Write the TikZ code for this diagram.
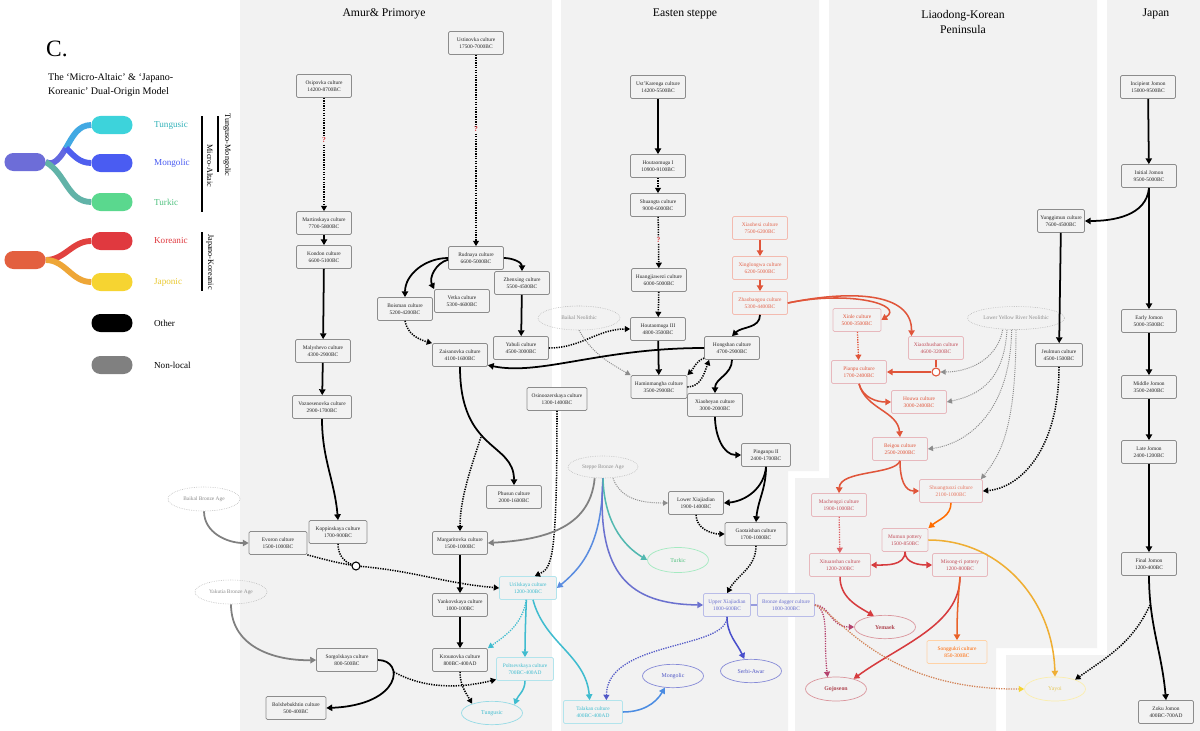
\documentclass[tikz,border=0pt]{standalone}
\usepackage{fontspec}
\setmainfont{Liberation Serif}
\usetikzlibrary{arrows.meta,shapes.geometric}
\pgfdeclarelayer{panels}
\pgfdeclarelayer{links}
\pgfsetlayers{panels,links,main}
\definecolor{panelGrey}{HTML}{F2F2F2}
\definecolor{boxLine}{HTML}{8C8C8C}
\definecolor{tungC}{HTML}{3DD3DB}
\definecolor{mongC}{HTML}{4A5CF2}
\definecolor{turkC}{HTML}{5AD88E}
\definecolor{korC}{HTML}{E0393F}
\definecolor{japC}{HTML}{F6D431}
\definecolor{microC}{HTML}{6D6DD8}
\definecolor{jkC}{HTML}{E3603F}
\definecolor{korLine}{HTML}{E0553A}
\definecolor{korDeep}{HTML}{D63B3E}
\definecolor{korText}{HTML}{C24E5A}
\definecolor{tungText}{HTML}{3FBCCF}
\definecolor{mongText}{HTML}{5158C6}
\definecolor{magDot}{HTML}{B5436E}
\definecolor{yayoiText}{HTML}{E6C85A}
\definecolor{sbaBlue}{HTML}{5A8CE0}
\definecolor{sbaTeal}{HTML}{52B8B0}
\definecolor{talBlue}{HTML}{4B8CE2}
\definecolor{mumYel}{HTML}{EFAE33}
\definecolor{magYel}{HTML}{D3855A}
\newcommand{\cultfont}{\fontsize{4.6}{6}\selectfont}
\tikzset{altaic/.style={
  x=0.03cm, y=0.03cm,
  cult/.style={draw=boxLine, fill=panelGrey, rounded corners=1.2pt, line width=0.6pt,
    minimum width=1.65cm, minimum height=0.69cm, inner sep=1.5pt, align=center,
    font=\cultfont, text=black!85},
  kcult/.style={cult, draw=korLine!40, text=korLine!90},
  jkcult/.style={cult, draw=korText!40, text=korText},
  tcult/.style={cult, draw=tungText!40, text=tungText},
  mcult/.style={cult, draw=mongText!40, text=mongText!85},
  region/.style={ellipse, draw=black!30, densely dotted, line width=0.5pt,
    minimum width=2.16cm, minimum height=0.72cm, inner sep=0pt, font=\cultfont, text=black!45},
  lang/.style={ellipse, line width=0.6pt, minimum width=1.83cm, minimum height=0.7cm,
    inner sep=0pt, font=\fontsize{5}{6}\selectfont},
  tlang/.style={lang, draw=tungText!55, text=tungText},
  glang/.style={lang, draw=turkC!55, text=turkC!90!black},
  mlang/.style={lang, draw=mongText!70, text=mongText},
  klang/.style={lang, draw=korText!60, text=korText!90!black, font=\fontsize{5}{6}\selectfont\bfseries},
  ylang/.style={lang, draw=japC!40, text=yayoiText},
  solidarr/.style={-{Triangle[length=5pt,width=5.4pt]}, line width=1.5pt},
  dotline/.style={line width=1.3pt, dash pattern=on 1.1pt off 1pt},
  dotarr/.style={dotline, -{Triangle[length=4.6pt,width=5pt]}},
  tipcol/.style={-{Triangle[length=5pt,width=5.4pt,color=#1]}},
  greyarr/.style={solidarr, draw=black!50},
  greydot/.style={-{Triangle[length=4.4pt,width=4.6pt]}, draw=black!45, line width=0.8pt,
    dash pattern=on 0.9pt off 0.9pt},
  karr/.style={solidarr, draw=korLine, line width=1.3pt},
  kline/.style={draw=korLine, line width=1.3pt},
  kdot/.style={dotarr, draw=korLine, line width=1.1pt},
  kdeep/.style={solidarr, draw=korDeep, line width=1.3pt},
  kdeepdot/.style={dotarr, draw=korDeep!80, line width=1.1pt},
  orangearr/.style={solidarr, draw=orange!85!red, line width=1.3pt},
  tarr/.style={solidarr, draw=tungText, line width=1.3pt},
  tdot/.style={dotarr, draw=tungText, line width=1.1pt},
  marr/.style={solidarr, draw=mongText!90!blue, line width=1.3pt},
  mdot/.style={dotarr, draw=mongText, line width=1.1pt},
  magdot/.style={dotarr, draw=magDot, line width=1.1pt},
  qmark/.style={font=\fontsize{6.5}{7}\selectfont\bfseries, text=korDeep, fill=panelGrey, inner sep=0.3pt},
  jcirc/.style={circle, draw, fill=white, line width=0.9pt, minimum size=0.24cm, inner sep=0pt},
  pill/.style={rounded corners=7.5pt, minimum width=1.23cm, minimum height=0.54cm, inner sep=0pt},
  keylab/.style={anchor=west, font=\fontsize{7.8}{9}\selectfont},
  keybar/.style={line width=1.1pt},
  sidelab/.style={rotate=-90, font=\fontsize{7}{8}\selectfont},
  paneltitle/.style={font=\fontsize{10}{12}\selectfont, align=center},
}}

\begin{document}
\begin{tikzpicture}[altaic]
\useasboundingbox (0,0) rectangle (1200,-731);
% =====================================================================
%  regional panels
% =====================================================================
\begin{pgfonlayer}{panels}
  \fill[white] (0,0) rectangle (1200,-731);
  \fill[panelGrey] (240,0) rectangle (552,-731);
  \fill[panelGrey] (561,0) -- (819,0) -- (819,-471) -- (788,-471) -- (788,-731) -- (561,-731) -- cycle;
  \fill[panelGrey] (829,0) -- (1097,0) -- (1097,-648) -- (996,-648) -- (996,-731) -- (795,-731) -- (795,-478) -- (829,-478) -- cycle;
  \fill[panelGrey] (1107,0) -- (1200,0) -- (1200,-731) -- (1006,-731) -- (1006,-655) -- (1107,-655) -- cycle;
\end{pgfonlayer}

\node[paneltitle] (tAmur) at (384,-14) {Amur\& Primorye};
\node[paneltitle] (tSteppe) at (685,-14) {Easten steppe};
\node[paneltitle] (tLiao) at (963,-22) {Liaodong-Korean\\Peninsula};
\node[paneltitle] (tJapan) at (1156,-14) {Japan};

% =====================================================================
%  key
% =====================================================================
\node[anchor=west, font=\fontsize{20}{22}\selectfont] (panelC) at (42,-49) {C.};
\node[anchor=west, align=left, font=\fontsize{8.6}{12}\selectfont] (keyTitle) at (44,-85)
  {The `Micro-Altaic' \& `Japano-\\Koreanic' Dual-Origin Model};

\node[pill, fill=microC] (pMicro) at (25,-162) {};
\node[pill, fill=tungC] (pTung) at (112,-125) {};
\node[pill, fill=mongC] (pMong) at (112,-163) {};
\node[pill, fill=turkC] (pTurk) at (112,-202) {};
\node[pill, fill=jkC] (pJK) at (25,-260) {};
\node[pill, fill=korC] (pKor) at (112,-241) {};
\node[pill, fill=japC] (pJap) at (112,-282) {};
\node[pill, fill=black] (pOther) at (112,-323) {};
\node[pill, fill=black!50] (pNonlocal) at (112,-365) {};
\coordinate (mJoin) at (66,-148);

\begin{pgfonlayer}{links}
  \draw[line width=5pt, draw=microC!70!mongC] (pMicro.east) to[out=-30,in=-120] (mJoin);
  \draw[line width=5pt, draw=tungC!65!mongC] (mJoin) to[out=60,in=180] (pTung.west);
  \draw[line width=5pt, draw=mongC!85!microC] (mJoin) to[out=-45,in=180] (pMong.west);
  \draw[line width=5pt, draw=turkC!65!microC] (pMicro.east) to[out=-30,in=180] (pTurk.west);
  \draw[line width=5pt, draw=korC!80!jkC] (pJK.east) to[out=0,in=180] (pKor.west);
  \draw[line width=5pt, draw=japC!60!jkC] (pJK.east) to[out=0,in=180] (pJap.west);
\end{pgfonlayer}

\node[keylab, text=tungC!85!black] (lTung) at (150,-125) {Tungusic};
\node[keylab, text=mongC] (lMong) at (150,-163) {Mongolic};
\node[keylab, text=turkC!90!black] (lTurk) at (150,-202) {Turkic};
\node[keylab, text=korC] (lKor) at (150,-241) {Koreanic};
\node[keylab, text=japC!95!black] (lJap) at (150,-282) {Japonic};
\node[keylab] (lOther) at (150,-323) {Other};
\node[keylab] (lNonlocal) at (150,-365) {Non-local};

\draw[keybar] (202,-116) -- (202,-212);
\draw[keybar] (218,-116) -- (218,-172);
\draw[keybar] (202,-232) -- (202,-291);
\node[sidelab] (sMicro) at (210,-166) {Micro-Altaic};
\node[sidelab] (sTM) at (227,-145) {Tunguso-Mongolic};
\node[sidelab] (sJK) at (210,-262) {Japano-Koreanic};

% =====================================================================
%  Amur & Primorye
% =====================================================================
\node[cult] (ustinovka) at (476,-43) {Ustinovka culture\\17500-7000BC};
\node[cult] (osipovka) at (324,-86) {Osipovka culture\\14200-8700BC};
\node[cult] (martinskaya) at (324,-223) {Martinskaya culture\\7700-5800BC};
\node[cult] (kondon) at (324,-257) {Kondon culture\\6600-5100BC};
\node[cult] (rudnaya) at (476,-258) {Rudnaya culture\\6600-5000BC};
\node[cult] (zhenxing) at (522,-283) {Zhenxing culture\\5500-4500BC};
\node[cult] (vetka) at (462,-301) {Vetka culture\\5300-4600BC};
\node[cult] (boisman) at (405,-309) {Boisman culture\\5200-4200BC};
\node[cult] (yabuli) at (521,-348) {Yabuli culture\\4500-3000BC};
\node[cult] (zaisanovka) at (460,-355) {Zaisanovka culture\\4100-1600BC};
\node[cult] (malyshevo) at (323,-351) {Malyshevo culture\\4300-2900BC};
\node[cult, minimum width=1.77cm] (voznesenovka) at (322,-407) {Voznesenovka culture\\2900-1700BC};
\node[cult, minimum width=1.8cm] (osino) at (557,-399) {Osinoozerskaya culture\\1300-1400BC};
\node[cult] (phusun) at (514,-497) {Phusun culture\\2000-1600BC};
\node[cult, minimum width=1.74cm] (koppinskaya) at (338,-532) {Koppinskaya culture\\1700-900BC};
\node[cult, minimum width=1.74cm] (evoron) at (278,-543) {Evoron culture\\1500-1000BC};
\node[cult] (margaritovka) at (460,-543) {Margaritovka culture\\1500-1000BC};
\node[cult] (yankovskaya) at (460,-605) {Yankovskaya culture\\1000-100BC};
\node[cult] (krounovka) at (460,-660) {Krounovka culture\\800BC-400AD};
\node[tcult, minimum width=1.71cm] (urilskaya) at (528,-588) {Urilskaya culture\\1200-300BC};
\node[tcult, minimum width=1.71cm] (poltsev) at (525,-669) {Poltsevskaya culture\\700BC-400AD};
\node[tlang] (tungusic) at (492,-713) {Tungusic};
\node[cult, minimum width=1.83cm] (sorgol) at (347,-660) {Sorgolskaya culture\\800-500BC};
\node[cult, minimum width=1.8cm] (bolsh) at (296,-708) {Bolshebukhtin culture\\500-400BC};
\node[region] (bba) at (204,-499) {Baikal Bronze Age};
\node[region] (yba) at (231,-592) {Yakutia Bronze Age};
\node[jcirc] (junc1) at (356,-566) {};

% =====================================================================
%  Easten steppe
% =====================================================================
\node[cult] (ustkarenga) at (658,-87) {Ust'Karenga culture\\14200-5500BC};
\node[cult] (hou1) at (658,-166) {Houtaomuga I\\10900-9100BC};
\node[cult] (shuangta) at (658,-205) {Shuangta culture\\9000-6000BC};
\node[kcult] (xiaohexi) at (760,-228) {Xiaohexi culture\\7500-6200BC};
\node[cult] (huangjia) at (659,-280) {Huangjiawezi culture\\6000-5000BC};
\node[kcult] (xinglongwa) at (760,-268) {Xinglongwa culture\\6200-5000BC};
\node[kcult] (zhaobaogou) at (760,-303) {Zhaobaogou culture\\5300-4400BC};
\node[cult] (hou3) at (658,-329) {Houtaomuga III\\4800-3500BC};
\node[region, minimum width=2.46cm] (bn) at (579,-318) {Baikal Neolithic};
\node[cult] (hongshan) at (732,-348) {Hongshan culture\\4700-2900BC};
\node[cult, minimum width=1.68cm] (hamin) at (659,-387) {Haminmangha culture\\3500-2900BC};
\node[cult] (xiaoheyan) at (715,-405) {Xiaoheyan culture\\3000-2000BC};
\node[cult, minimum width=1.47cm] (pinganpu) at (766,-455) {Pinganpu II\\2400-1700BC};
\node[region, minimum width=2.1cm, minimum height=0.66cm] (sba) at (603,-467) {Steppe Bronze Age};
\node[cult] (lowerx) at (696,-503) {Lower Xiajiadian\\1900-1400BC};
\node[cult, minimum width=1.86cm] (gaotaishan) at (756,-534) {Gaotaishan culture\\1700-1000BC};
\node[glang, minimum height=0.75cm] (turkic) at (678,-560) {Turkic};
\node[mcult, minimum width=1.41cm] (upperx) at (727,-605) {Upper Xiajiadian\\1000-600BC};
\node[mcult, minimum width=1.71cm] (dagger) at (786,-605) {Bronze dagger culture\\1000-300BC};
\node[mlang] (mongolic) at (673,-676) {Mongolic};
\node[mlang] (serbi) at (751,-671) {Serbi-Awar};
\node[tcult, minimum width=1.77cm] (talakan) at (593,-712) {Talakan culture\\400BC-400AD};

% =====================================================================
%  Liaodong-Korean Peninsula
% =====================================================================
\node[jkcult, minimum width=1.44cm, text=korLine] (xinle) at (857,-320) {Xinle culture\\5000-3500BC};
\node[jkcult] (xiaozhushan) at (936,-348) {Xiaozhushan culture\\4600-3200BC};
\node[region, minimum width=2.91cm, minimum height=0.69cm] (lyrn) at (1016,-318) {Lower Yellow River Neolithic};
\node[jkcult, text=korLine] (pianpu) at (859,-372) {Pianpu culture\\1700-2400BC};
\node[jkcult, text=korLine] (houwa) at (919,-402) {Houwa culture\\3000-2400BC};
\node[jkcult, text=korLine] (beigou) at (900,-449) {Beigou culture\\2500-2000BC};
\node[jkcult, minimum width=1.89cm, text=korLine!80] (shuangtuozi) at (951,-491) {Shuangtuozi culture\\2100-1000BC};
\node[jkcult] (machengzi) at (839,-505) {Machengzi culture\\1900-1000BC};
\node[jkcult, minimum width=1.38cm] (mumun) at (905,-540) {Mumun pottery\\1500-850BC};
\node[jkcult, minimum width=1.83cm] (xituanshan) at (840,-565) {Xituanshan culture\\1200-200BC};
\node[jkcult] (misong) at (960,-565) {Misong-ri pottery\\1200-800BC};
\node[klang] (yemaek) at (885,-627) {Yemaek};
\node[jkcult, minimum width=1.8cm, draw=orange!35, text=orange!80!red] (songgukri) at (957,-652) {Songgukri culture\\850-300BC};
\node[klang, minimum height=0.72cm] (gojoseon) at (836,-689) {Gojoseon};
\node[ylang, minimum height=0.72cm] (yayoi) at (1055,-689) {Yayoi};
\node[cult, minimum width=1.41cm] (yunggimun) at (1061,-221) {Yunggimun culture\\7600-4500BC};
\node[cult, minimum width=1.41cm] (jeulmun) at (1059,-355) {Jeulmun culture\\4500-1500BC};
\node[jcirc, draw=korLine] (junc2) at (936,-372) {};

% =====================================================================
%  Japan
% =====================================================================
\node[cult] (incipient) at (1148,-87) {Incipient Jomon\\15000-9500BC};
\node[cult] (initial) at (1149,-176) {Initial Jomon\\9500-5000BC};
\node[cult] (early) at (1149,-321) {Early Jomon\\5000-3500BC};
\node[cult] (middle) at (1149,-387) {Middle Jomon\\3500-2400BC};
\node[cult] (late) at (1149,-452) {Late Jomon\\2400-1200BC};
\node[cult] (final) at (1149,-564) {Final Jomon\\1200-400BC};
\node[cult] (zoku) at (1166,-712) {Zoku Jomon\\400BC-700AD};

% ---------------------------------------------------------------------
%  links: Amur & Primorye
% ---------------------------------------------------------------------
\draw[dotarr] (osipovka) -- node[qmark, pos=0.37] (q1) {?} (martinskaya);
\draw[solidarr] (martinskaya) -- (kondon);
\draw[solidarr] (kondon) -- (malyshevo);
\draw[solidarr] (malyshevo) -- (voznesenovka);
\draw[solidarr] (voznesenovka.south) to[out=-90,in=95] (koppinskaya.north);
\draw[dotarr] (ustinovka) -- node[qmark, pos=0.39] (q2) {?} (rudnaya);
\draw[solidarr] (rudnaya.west) to[out=180,in=90] (boisman.north);
\draw[solidarr] ([yshift=-0.05cm]rudnaya.west) to[out=195,in=115] (vetka.north west);
\draw[solidarr] (rudnaya.east) to[out=0,in=90] (zhenxing.north);
\draw[solidarr] (zhenxing) -- (yabuli);
\draw[dotarr] (boisman.south) to[out=-80,in=165] (zaisanovka.north west);
\draw[dotarr] (yabuli.east) to[out=0,in=180] (hou3.west);
\draw[solidarr] (zaisanovka.south) .. controls (460,-452) and (514,-442) .. (phusun.north);
\coordinate (zBranch) at (481,-437);
\draw[dotarr] (zBranch) .. controls (470,-470) and (460,-500) .. (margaritovka.north);
\draw[dotarr] (osino.south) .. controls (557,-560) and (552,-568) .. ([xshift=0.2cm]urilskaya.north);
\draw[greyarr] (bba.south) to[out=-90,in=180] (evoron.west);
\draw[greyarr] (yba.south) .. controls (231,-650) and (280,-661) .. (sorgol.west);
\draw[dotline] (koppinskaya.south) to[out=-90,in=160] (junc1);
\draw[dotline] (evoron.south east) to[out=-15,in=170] (junc1);
\draw[dotarr] (junc1) to[out=-5,in=175] (urilskaya.west);
\draw[solidarr] (margaritovka) -- (yankovskaya);
\draw[solidarr] (yankovskaya) -- (krounovka);
\draw[tarr] ([xshift=-0.05cm]urilskaya.south) to[out=-92,in=90] (poltsev.north);
\draw[tarr] ([xshift=0.15cm]urilskaya.south) to[out=-75,in=95] ([xshift=-0.1cm]talakan.north);
\draw[tdot] ([xshift=-0.05cm]urilskaya.south) to[out=-100,in=35] (krounovka.north east);
\draw[tarr] (poltsev.south) to[out=-90,in=70] (tungusic.20);
\draw[dotarr] (krounovka.south) to[out=-90,in=120] (tungusic.155);
\draw[solidarr] (sorgol.east) .. controls (405,-660) and (402,-705) .. (bolsh.east);
\coordinate (sBranch) at (394,-672);
\draw[dotarr] (sBranch) .. controls (430,-692) and (470,-686) .. (poltsev.200);

% ---------------------------------------------------------------------
%  links: Easten steppe
% ---------------------------------------------------------------------
\draw[solidarr] (ustkarenga) -- (hou1);
\draw[dotarr] (hou1) -- (shuangta);
\draw[dotarr] (shuangta) -- node[qmark, pos=0.45] (q3) {?} (huangjia);
\draw[dotarr] (huangjia) -- (hou3);
\draw[solidarr] (hou3) -- (hamin);
\draw[greydot] (bn.south) to[out=-60,in=150] (hamin.north west);
\draw[dotarr] (hongshan.200) to[out=200,in=45] (hamin.north east);
\draw[dotarr] (hamin.east) to[out=0,in=-110] ([xshift=0.15cm]hongshan.south west);
\draw[solidarr] (hongshan.west) .. controls (600,-348) and (540,-376) .. (zaisanovka.-20);
\draw[karr] (xiaohexi) -- (xinglongwa);
\draw[karr] (xinglongwa) -- (zhaobaogou);
\draw[solidarr] (zhaobaogou.south) to[out=-90,in=45] (hongshan.north);
\draw[solidarr] (hongshan.south) to[out=-90,in=90] (xiaoheyan.north);
\draw[solidarr] (xiaoheyan.south) to[out=-90,in=180] (pinganpu.west);
\draw[solidarr] (pinganpu.south) to[out=-95,in=5] (lowerx.east);
\draw[solidarr] (pinganpu.south) to[out=-90,in=85] (gaotaishan.north);
\draw[dotarr] (lowerx.south) to[out=-90,in=180] (gaotaishan.west);
\draw[dotarr] (gaotaishan.south) to[out=-90,in=60] (upperx.north);
\draw[greydot] ([xshift=0.3cm]sba.south) to[out=-70,in=180] (lowerx.west);
\draw[greyarr] ([xshift=-0.25cm]sba.south) .. controls (590,-530) and (540,-540) .. (margaritovka.east);
\draw[solidarr, draw=sbaBlue, line width=1.3pt, tipcol=tungText] (sba.south) .. controls (602,-540) and (585,-565) .. (urilskaya.east);
\draw[solidarr, draw=mongText!85, line width=1.3pt] (sba.south) .. controls (596,-575) and (630,-604) .. (upperx.west);
\draw[solidarr, draw=sbaTeal, line width=1.3pt, tipcol=turkC] (sba.south) .. controls (604,-520) and (622,-545) .. (turkic.west);
\draw[draw=mongText!60, line width=1.3pt] (upperx.east) -- (dagger.west);
\draw[marr] (upperx.south) to[out=-90,in=115] ([xshift=-0.2cm]serbi.north);
\draw[mdot] (upperx.south) .. controls (727,-650) and (607,-640) .. ([xshift=0.4cm]talakan.north);
\draw[solidarr, draw=talBlue, line width=1.3pt, tipcol=mongC!80] (talakan.east) to[out=0,in=-120] (mongolic.235);

% ---------------------------------------------------------------------
%  links: Liaodong-Korean Peninsula
% ---------------------------------------------------------------------
\draw[karr] (zhaobaogou.east) .. controls (850,-290) and (905,-305) .. (xinle.east);
\draw[karr] (zhaobaogou.east) .. controls (850,-290) and (912,-292) .. ([xshift=0.1cm]xiaozhushan.north west);
\draw[kdot] (xinle) -- (pianpu);
\draw[kline] (xiaozhushan.south) -- (junc2);
\draw[karr] (junc2) -- (pianpu.east);
\draw[greydot] ([xshift=-0.4cm]lyrn.south) to[out=-100,in=0] (junc2);
\draw[greydot] ([xshift=-0.27cm]lyrn.south) .. controls (1004,-380) and (980,-395) .. (houwa.east);
\draw[greydot] ([xshift=-0.13cm]lyrn.south) .. controls (1010,-420) and (960,-445) .. (beigou.east);
\draw[greydot] (lyrn.south) .. controls (1016,-430) and (1000,-455) .. ([xshift=0.9cm]shuangtuozi.north);
\draw[dotarr] (jeulmun.south) .. controls (1059,-450) and (1020,-488) .. (shuangtuozi.east);
\draw[karr] (pianpu.south) to[out=-75,in=180] (houwa.west);
\draw[karr] (pianpu.south) to[out=-75,in=95] (beigou.north);
\draw[karr] (beigou.south) .. controls (895,-475) and (840,-470) .. (machengzi.north);
\draw[karr] (beigou.south) .. controls (900,-480) and (905,-491) .. (shuangtuozi.west);
\draw[kdeepdot] (machengzi) -- (xituanshan);
\draw[orangearr] (shuangtuozi.south) to[out=-90,in=40] (mumun.north east);
\draw[kdeep] (mumun.south) to[out=-90,in=0] (xituanshan.east);
\draw[kdeep] (mumun.south) to[out=-90,in=180] (misong.west);
\draw[solidarr, draw=mumYel, line width=1.3pt, tipcol=japC] (mumun.east) .. controls (1000,-540) and (1053,-600) .. (yayoi.north);
\draw[kdeep] (xituanshan.south) to[out=-90,in=150] (yemaek.135);
\draw[kdeep] (misong.south) .. controls (960,-625) and (900,-645) .. (gojoseon.30);
\draw[orangearr, draw=korLine!70!orange] (misong.south) to[out=-95,in=90] (songgukri.north);
\draw[magdot] (dagger.east) .. controls (830,-605) and (830,-627) .. (yemaek.west);
\draw[magdot] (dagger.east) .. controls (830,-610) and (823,-640) .. (gojoseon.125);
\draw[dotarr, draw=magYel, line width=1.1pt, -{Triangle[length=4.6pt,width=5pt,color=japC]}] (dagger.east) .. controls (838,-612) and (880,-690) .. (yayoi.west);

% ---------------------------------------------------------------------
%  links: Japan
% ---------------------------------------------------------------------
\draw[solidarr] (incipient) -- (initial);
\draw[solidarr] (initial) -- (early);
\draw[solidarr] (initial.south) to[out=-95,in=0] (yunggimun.east);
\draw[solidarr] (yunggimun) -- (jeulmun);
\draw[solidarr] (early) -- (middle);
\draw[solidarr] (middle) -- (late);
\draw[solidarr] (late) -- (final);
\draw[solidarr] (final.south) to[out=-90,in=95] (zoku.north);
\coordinate (fBranch) at (1150,-605);
\draw[dotarr] (fBranch) to[out=-115,in=35] (yayoi.25);
\end{tikzpicture}
\end{document}
